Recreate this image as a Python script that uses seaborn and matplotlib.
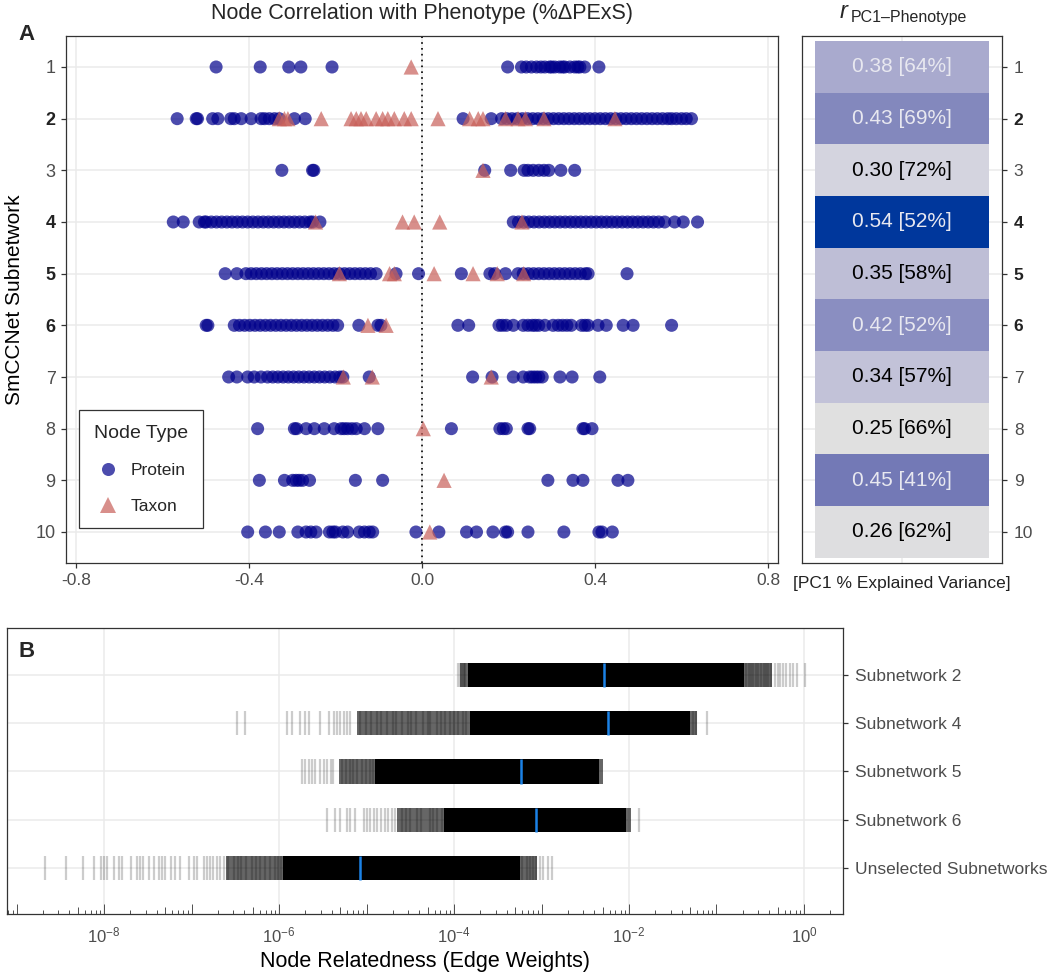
import numpy as np
import pandas as pd
import matplotlib
matplotlib.use("Agg")
from matplotlib import pyplot as plt
from matplotlib.colors import LinearSegmentedColormap
from matplotlib.ticker import NullLocator
import seaborn as sns

sns.set_theme(style="whitegrid")
plt.rcParams['font.family'] = ['Liberation Sans', 'DejaVu Sans']
plt.rcParams['mathtext.fontset'] = 'custom'
plt.rcParams['mathtext.rm'] = 'Liberation Sans'
plt.rcParams['mathtext.it'] = 'Liberation Sans:italic'

W, H = 1050, 975

######### Panel A data: node correlation with phenotype, per subnetwork #########
prot_1 = [-0.476, -0.374, -0.308, -0.280, -0.208, 0.198, 0.230, 0.241, 0.253, 0.265, 0.275, 0.284,
          0.295, 0.300, 0.307, 0.318, 0.325, 0.330, 0.342, 0.353, 0.360, 0.365, 0.376, 0.409]
taxa_1 = [-0.025]

prot_2 = [-0.566, -0.522, -0.519, -0.484, -0.472, -0.442, -0.434, -0.418, -0.395, -0.372, -0.364,
          -0.353, -0.341, -0.330, -0.295, -0.270, 0.095, 0.160, 0.184, 0.196, 0.208, 0.220, 0.232,
          0.244, 0.256, 0.268, 0.280, 0.292, 0.304, 0.316, 0.328, 0.340, 0.352, 0.364, 0.376, 0.388,
          0.400, 0.412, 0.424, 0.436, 0.448, 0.460, 0.472, 0.484, 0.496, 0.508, 0.520, 0.532, 0.544,
          0.556, 0.568, 0.577, 0.588, 0.600, 0.611, 0.623]
taxa_2 = [-0.330, -0.318, -0.310, -0.233, -0.164, -0.152, -0.141, -0.129, -0.106, -0.091, -0.079,
          -0.064, -0.041, -0.025, 0.037, 0.110, 0.130, 0.141, 0.193, 0.222, 0.239, 0.282, 0.446]

prot_3 = [-0.324, -0.253, -0.250, 0.145, 0.205, 0.236, 0.245, 0.257, 0.270, 0.282, 0.293, 0.321, 0.353]
taxa_3 = [0.141]

prot_4 = [-0.575, -0.552, -0.515, -0.503, -0.499, -0.487, -0.475, -0.463, -0.451, -0.439, -0.427,
          -0.415, -0.403, -0.391, -0.379, -0.367, -0.355, -0.343, -0.331, -0.319, -0.307, -0.295,
          -0.283, -0.271, -0.259, -0.253, -0.236, 0.211, 0.223, 0.235, 0.247, 0.259, 0.271, 0.283,
          0.295, 0.307, 0.319, 0.331, 0.343, 0.355, 0.367, 0.379, 0.391, 0.403, 0.415, 0.427, 0.439,
          0.451, 0.463, 0.475, 0.487, 0.499, 0.511, 0.523, 0.535, 0.547, 0.561, 0.584, 0.604, 0.637]
taxa_4 = [-0.246, -0.045, -0.018, 0.041, 0.231]

prot_5 = [-0.455, -0.428, -0.407, -0.395, -0.383, -0.371, -0.359, -0.347, -0.335, -0.323, -0.311,
          -0.299, -0.287, -0.275, -0.263, -0.251, -0.239, -0.227, -0.215, -0.203, -0.191, -0.179,
          -0.167, -0.155, -0.143, -0.131, -0.119, -0.106, -0.060, -0.008, 0.091, 0.157, 0.168, 0.193,
          0.222, 0.234, 0.246, 0.258, 0.270, 0.282, 0.294, 0.306, 0.318, 0.330, 0.342, 0.354, 0.366,
          0.378, 0.384, 0.474]
taxa_5 = [-0.191, -0.075, -0.064, 0.028, 0.118, 0.174, 0.235]

prot_6 = [-0.499, -0.495, -0.434, -0.422, -0.410, -0.398, -0.386, -0.374, -0.362, -0.350, -0.338,
          -0.326, -0.314, -0.302, -0.290, -0.278, -0.266, -0.254, -0.242, -0.230, -0.218, -0.206,
          -0.195, -0.146, -0.102, -0.095, 0.083, 0.108, 0.178, 0.186, 0.195, 0.211, 0.234, 0.245,
          0.255, 0.262, 0.270, 0.284, 0.303, 0.315, 0.325, 0.335, 0.345, 0.369, 0.377, 0.384, 0.407,
          0.426, 0.465, 0.488, 0.577]
taxa_6 = [-0.125, -0.083]

prot_7 = [-0.447, -0.428, -0.403, -0.388, -0.372, -0.357, -0.345, -0.333, -0.321, -0.309, -0.297,
          -0.285, -0.273, -0.261, -0.249, -0.237, -0.225, -0.213, -0.201, -0.190, -0.183, -0.122,
          0.117, 0.162, 0.211, 0.234, 0.249, 0.256, 0.263, 0.270, 0.278, 0.319, 0.347, 0.411]
taxa_7 = [-0.182, -0.115, 0.160]

prot_8 = [-0.380, -0.295, -0.290, -0.268, -0.249, -0.226, -0.203, -0.187, -0.180, -0.172, -0.162,
          -0.152, -0.133, -0.102, 0.068, 0.180, 0.188, 0.195, 0.245, 0.249, 0.372, 0.376, 0.393]
taxa_8 = [0.003]

prot_9 = [-0.376, -0.318, -0.299, -0.291, -0.284, -0.276, -0.260, -0.154, -0.091, 0.291, 0.349,
          0.372, 0.453, 0.476]
taxa_9 = [0.051]

prot_10 = [-0.403, -0.362, -0.330, -0.287, -0.268, -0.257, -0.245, -0.214, -0.206, -0.200, -0.183,
           -0.172, -0.145, -0.133, -0.122, -0.114, -0.014, 0.039, 0.103, 0.126, 0.164, 0.193, 0.198,
           0.245, 0.328, 0.409, 0.416, 0.440]
taxa_10 = [0.018]

proteins = [prot_1, prot_2, prot_3, prot_4, prot_5, prot_6, prot_7, prot_8, prot_9, prot_10]
taxa = [taxa_1, taxa_2, taxa_3, taxa_4, taxa_5, taxa_6, taxa_7, taxa_8, taxa_9, taxa_10]
selected = [2, 4, 5, 6]

# PC1 correlation with phenotype and PC1 % explained variance
r_pc1 = [0.38, 0.43, 0.30, 0.54, 0.35, 0.42, 0.34, 0.25, 0.45, 0.26]
pc1_var = [64, 69, 72, 52, 58, 52, 57, 66, 41, 62]

######### Panel B data: edge weights (log10) #########
rows_b = ["Subnetwork 2", "Subnetwork 4", "Subnetwork 5", "Subnetwork 6", "Unselected Subnetworks"]
mid_lo = [-3.93, -5.11, -5.32, -4.65, -6.61]
band_lo = [-3.84, -3.82, -4.90, -4.12, -5.95]
band_hi = [-0.68, -1.30, -2.34, -2.03, -3.25]
mid_hi = [-0.36, -1.22, -2.30, -1.98, -3.05]
median_w = [-2.29, -2.24, -3.23, -3.06, -5.08]
ticks_sn2 = [-3.95, -3.93, -3.91, -3.89, -3.87, -0.66, -0.63, -0.61, -0.58, -0.55, -0.52, -0.49,
             -0.46, -0.43, -0.41, -0.38, -0.33, -0.30, -0.27, -0.24, -0.20, -0.16, -0.12, -0.08, 0.01]
ticks_sn4 = [-6.48, -6.385, -5.91, -5.85, -5.76, -5.70, -5.66, -5.53, -5.43, -5.375, -5.34, -5.30,
             -5.26, -5.22, -5.185, -5.07, -5.01, -4.95, -4.88, -4.84, -4.77, -4.70, -4.66, -4.60,
             -4.53, -4.49, -4.43, -4.36, -4.30, -4.27, -4.20, -4.15, -4.10, -4.05, -4.00, -3.95,
             -3.90, -3.86, -1.27, -1.24, -1.11]
ticks_sn5 = [-5.74, -5.70, -5.66, -5.62, -5.59, -5.53, -5.49, -5.45, -5.41, -5.38, -5.28, -5.24,
             -5.19, -5.15, -5.11, -5.05, -5.01, -4.96, -4.93]
ticks_sn6 = [-5.45, -5.36, -5.30, -5.22, -5.19, -5.13, -5.03, -5.00, -4.96, -4.92, -4.88, -4.84,
             -4.79, -4.75, -4.71, -4.68, -4.60, -4.55, -4.50, -4.42, -4.38, -4.28, -4.24, -4.19,
             -4.14, -1.89]
ticks_unsel = [-8.68, -8.44, -8.24, -8.11, -8.04, -8.00, -7.97, -7.89, -7.83, -7.79, -7.69, -7.62,
               -7.585, -7.55, -7.49, -7.43, -7.375, -7.34, -7.30, -7.24, -7.185, -7.13, -7.03,
               -6.975, -6.94, -6.86, -6.82, -6.785, -6.75, -6.71, -6.67, -6.63, -6.58, -6.52,
               -6.47, -6.43, -6.38, -6.31, -6.26, -6.22, -6.16, -6.10, -6.05, -6.01, -5.98,
               -3.22, -3.17, -3.13, -3.10, -3.06, -3.02, -2.98, -2.93, -2.88]
ticks_b = [ticks_sn2, ticks_sn4, ticks_sn5, ticks_sn6, ticks_unsel]


def px_box(x0, y0, x1, y1):
    return [x0 / W, 1 - y1 / H, (x1 - x0) / W, (y1 - y0) / H]


GRID = '#ebebeb'
BORDER = '#333333'
TXT = '#4d4d4d'

fig = plt.figure(figsize=(W / 100, H / 100), dpi=100)

######### Panel A: scatter #########
recs = []
for i, vals in enumerate(proteins):
    recs += [(v, i + 1, "Protein") for v in vals]
for i, vals in enumerate(taxa):
    recs += [(v, i + 1, "Taxon") for v in vals]
nodes = pd.DataFrame(recs, columns=["corr", "subnetwork", "type"])

ax = fig.add_axes(px_box(66, 36, 778, 563))
ax.axvline(0, color='black', ls=(0, (1, 2.5)), lw=1.2, zorder=2)
sns.scatterplot(data=nodes, x="corr", y="subnetwork", hue="type", style="type", size="type",
                markers={"Protein": "o", "Taxon": "^"},
                palette={"Protein": "#00008b", "Taxon": "#c8605a"},
                sizes={"Protein": 88, "Taxon": 120},
                alpha=0.7, linewidth=0, ax=ax, zorder=3)
ax.set_xlim(-0.823, 0.823)
ax.set_ylim(10.6, 0.4)
ax.set_xticks([-0.8, -0.4, 0.0, 0.4, 0.8])
ax.set_xticklabels(["-0.8", "-0.4", "0.0", "0.4", "0.8"])
ax.set_yticks(range(1, 11))
ax.set_yticklabels([str(k) for k in range(1, 11)])
ax.set_xlabel("")
ax.set_ylabel("SmCCNet Subnetwork", fontsize=15, color='black')
ax.yaxis.set_label_coords((24 - 66) / 712, 0.5)
ax.grid(True, color=GRID, lw=1.1)
ax.set_axisbelow(True)
ax.tick_params(length=3.5, width=0.9, color=BORDER, labelsize=13, labelcolor=TXT, pad=4,
               bottom=True, left=True)
ax.tick_params(axis='x', labelsize=12.5)
for k, lab in zip(range(1, 11), ax.get_yticklabels()):
    if k in selected:
        lab.set_fontweight('bold')
        lab.set_color('#222222')
for s in ax.spines.values():
    s.set_visible(True)
    s.set_color(BORDER)
    s.set_linewidth(0.9)

h, l = ax.get_legend_handles_labels()
ax.get_legend().remove()
leg = ax.legend(h, l, title="Node Type", loc='upper left',
                bbox_to_anchor=((79 - 66) / 712, (563 - 410) / 527), borderaxespad=0,
                frameon=True, fancybox=False, edgecolor=BORDER, framealpha=1,
                fontsize=12.5, title_fontsize=14, borderpad=0.85, labelspacing=1.2,
                handletextpad=0.55, handlelength=1.6, alignment='left')
leg.get_frame().set_linewidth(0.9)

fig.text(422 / W, 1 - 14 / H, "Node Correlation with Phenotype (%ΔPExS)", fontsize=15.5,
         ha='center', va='center')
fig.text(18 / W, 1 - 40 / H, "A", fontsize=16, fontweight='bold', ha='left', va='baseline')

######### Panel A right: PC1 tiles #########
tile_cmap = LinearSegmentedColormap.from_list("pc1", [
    (0.0, '#e0e0e0'), (0.05 / 0.29, '#d4d4df'), (0.10 / 0.29, '#bebed6'),
    (0.15 / 0.29, '#9a9dc8'), (0.20 / 0.29, '#7379b6'), (1.0, '#00379c')])
ax_r = fig.add_axes(px_box(802, 36, 1002, 563))
sns.heatmap(np.array(r_pc1).reshape(-1, 1), cmap=tile_cmap, vmin=0.25, vmax=0.54, cbar=False,
            linewidths=0, ax=ax_r)
for i, (r, v) in enumerate(zip(r_pc1, pc1_var)):
    ax_r.text(0.5, i + 0.5, f"{r:.2f} [{v}%]", ha='center', va='center', fontsize=15,
              color='#e8e8f0' if r >= 0.38 else 'black', zorder=4)
ax_r.set_xlim(-0.075, 1.075)
ax_r.set_ylim(10.1, -0.1)
ax_r.set_yticks(np.arange(10) + 0.5)
ax_r.set_yticklabels([str(k) for k in range(1, 11)], rotation=0)
ax_r.set_xticks([0.5])
ax_r.set_xticklabels([""])
ax_r.yaxis.tick_right()
ax_r.tick_params(axis='y', right=True, left=False, labelright=True, labelleft=False,
                 length=3.5, width=0.9, color=BORDER, labelsize=12.5, labelcolor=TXT, pad=5)
ax_r.tick_params(axis='x', length=0)
for k, t in zip(range(1, 11), ax_r.yaxis.get_major_ticks()):
    if k in selected:
        t.label2.set_fontweight('bold')
        t.label2.set_color('#222222')
ax_r.set_ylabel("")
ax_r.set_xlabel("[PC1 % Explained Variance]", fontsize=12.5, color='#222222', labelpad=6)
ax_r.grid(True, color=GRID, lw=1.1)
ax_r.set_axisbelow(True)
for s in ax_r.spines.values():
    s.set_visible(True)
    s.set_color(BORDER)
    s.set_linewidth(0.9)
fig.text(840 / W, 1 - 18 / H, "r", fontsize=17, style='italic', ha='left', va='baseline')
fig.text(851 / W, 1 - 22 / H, "PC1\u2013Phenotype", fontsize=11.5, ha='left', va='baseline')

######### Panel B: edge weight barcodes #########
ax_b = fig.add_axes(px_box(7, 628, 843, 914))
ax_b.set_xscale('log')
for i in range(len(rows_b)):
    ax_b.barh(i, 10 ** band_lo[i] - 10 ** mid_lo[i], left=10 ** mid_lo[i], height=0.5,
              color='black', alpha=0.6, linewidth=0, zorder=2)
    ax_b.barh(i, 10 ** mid_hi[i] - 10 ** band_hi[i], left=10 ** band_hi[i], height=0.5,
              color='black', alpha=0.6, linewidth=0, zorder=2)
    ax_b.barh(i, 10 ** band_hi[i] - 10 ** band_lo[i], left=10 ** band_lo[i], height=0.5,
              color='black', linewidth=0, zorder=3)
    ax_b.vlines(10 ** np.array(ticks_b[i]), i - 0.25, i + 0.25, color='black', alpha=0.2,
                lw=1.6, zorder=3)
    ax_b.vlines(10 ** median_w[i], i - 0.25, i + 0.25, color='#1b82e6', lw=1.8, zorder=4)

ax_b.set_xlim(10 ** -9.11, 10 ** 0.446)
ax_b.set_ylim(4.95, -0.97)
ax_b.set_xticks(10.0 ** np.arange(-8, 1, 2))
ax_b.set_xticklabels([r"$10^{%d}$" % k for k in range(-8, 1, 2)])
ax_b.xaxis.set_minor_locator(NullLocator())
ax_b.set_yticks(range(len(rows_b)))
ax_b.set_yticklabels(rows_b)
ax_b.yaxis.tick_right()
ax_b.tick_params(axis='y', right=True, left=False, labelright=True, labelleft=False,
                 length=3.5, width=0.9, color=BORDER, labelsize=12.5, labelcolor=TXT, pad=5)
ax_b.tick_params(axis='x', bottom=True, length=0, labelsize=12, labelcolor=TXT, pad=8)
ax_b.grid(True, which='major', color=GRID, lw=1.1)
ax_b.set_axisbelow(True)
for s in ax_b.spines.values():
    s.set_visible(True)
    s.set_color(BORDER)
    s.set_linewidth(0.9)

# log ticks along the bottom, inside the panel
for k in range(-10, 1):
    for m in range(1, 10):
        xv = m * 10.0 ** k
        if 10 ** -9.11 < xv < 10 ** 0.446:
            ln = 0.036 if m == 1 else (0.024 if m == 5 else 0.013)
            ax_b.vlines(xv, 0, ln, transform=ax_b.get_xaxis_transform(), color=BORDER,
                        lw=0.6, zorder=5)

ax_b.set_xlabel("Node Relatedness (Edge Weights)", fontsize=15.5, color='black')
ax_b.xaxis.set_label_coords(0.5, -(951 - 914) / 286)
fig.text(18 / W, 1 - 657 / H, "B", fontsize=16, fontweight='bold', ha='left', va='baseline')

fig.savefig("out.png", dpi=100)
